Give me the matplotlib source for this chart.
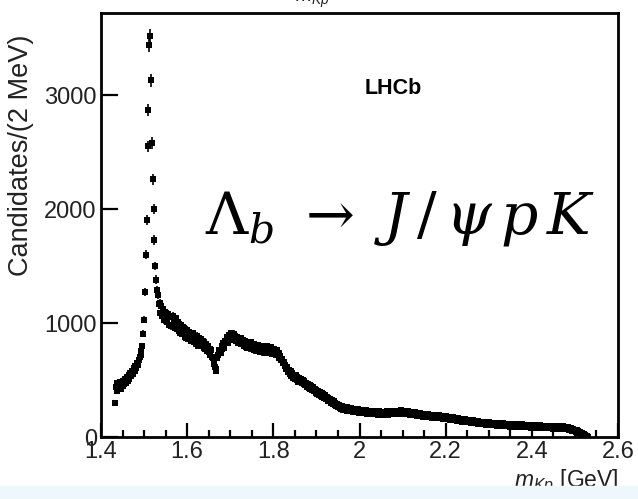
import matplotlib
matplotlib.use('Agg')
import matplotlib.pyplot as plt
import numpy as np

# m(Kp) spectrum, 2 MeV bins starting at threshold
bin_start = 1.432
bin_width = 0.002
counts = [
    300, 440, 470, 405, 462, 428, 485, 420, 466, 450,        # 1.432
    488, 465, 512, 478, 530, 495, 548, 512, 560, 535,        # 1.452
    578, 552, 602, 580, 625, 605, 650, 630, 680, 700,        # 1.472
    722, 752, 795, 905, 1030, 1270, 1600, 1900, 2550, 2870,  # 1.492
    3440, 3520, 3130, 2580, 2260, 2000, 1730, 1500, 1380, 1290,  # 1.512
    1250, 1165, 1180, 1085, 1150, 1060, 1120, 1025, 1098, 1035,  # 1.532
    1090, 1010, 1075, 985, 1060, 970, 1050, 1065, 985, 1030,     # 1.552
    960, 1040, 945, 1010, 930, 995, 915, 985, 905, 965,      # 1.572
    960, 880, 945, 870, 935, 860, 925, 905, 845, 900,        # 1.592
    860, 910, 835, 885, 815, 890, 830, 800, 870, 820,        # 1.612
    860, 800, 845, 780, 830, 770, 815, 755, 800, 745,        # 1.632
    775, 720, 760, 700, 690, 640, 612, 580, 600, 690,        # 1.652
    720, 760, 765, 740, 800, 770, 825, 785, 840, 830,        # 1.672
    875, 825, 885, 895, 855, 910, 875, 860, 905, 850,        # 1.692
    890, 840, 875, 825, 870, 835, 815, 865, 820, 850,        # 1.712
    800, 845, 790, 835, 785, 825, 778, 815, 835, 785,        # 1.732
    770, 815, 760, 810, 770, 755, 805, 758, 800, 750,        # 1.752
    790, 742, 798, 755, 740, 790, 748, 795, 735, 782,        # 1.772
    740, 790, 732, 775, 725, 772, 735, 718, 765, 722,        # 1.792
    735, 695, 710, 675, 682, 650, 660, 622, 635, 598,        # 1.812
    615, 568, 592, 550, 575, 535, 562, 522, 548, 512,        # 1.832
    540, 500, 528, 485, 518, 480, 510, 470, 498, 462,        # 1.852
    490, 452, 478, 440, 468, 430, 458, 422, 450, 412,        # 1.872
    438, 400, 425, 388, 414, 378, 405, 370, 395, 362,        # 1.892
    388, 350, 375, 340, 365, 330, 354, 320, 345, 312,        # 1.912
    335, 300, 322, 288, 312, 280, 302, 270, 294, 262,        # 1.932
    284, 252, 276, 246, 270, 240, 266, 236, 260, 232,        # 1.952
    260, 230, 255, 226, 252, 224, 250, 222, 248, 220,        # 1.972
    246, 218, 242, 214, 240, 215, 238, 210, 236, 212,        # 1.992
    237, 208, 233, 205, 231, 203, 229, 204, 227, 200,        # 2.012
    228, 200, 225, 198, 224, 201, 194, 226, 199, 222,        # 2.032
    197, 223, 200, 194, 222, 199, 225, 196, 220, 201,        # 2.052
    227, 200, 224, 202, 230, 204, 226, 201, 231, 206,        # 2.072
    229, 204, 233, 207, 228, 203, 232, 206, 228, 202,        # 2.092
    226, 200, 222, 196, 220, 194, 218, 192, 216, 190,        # 2.112
    214, 188, 210, 184, 208, 182, 206, 185, 180, 204,        # 2.132
    199, 178, 202, 174, 198, 172, 196, 175, 170, 194,        # 2.152
    190, 168, 193, 165, 189, 167, 191, 163, 187, 166,        # 2.172
    186, 162, 183, 158, 181, 157, 179, 155, 177, 153,        # 2.192
    176, 151, 173, 148, 170, 145, 167, 142, 164, 140,        # 2.212
    162, 139, 160, 135, 158, 133, 155, 131, 153, 129,        # 2.232
    151, 128, 149, 125, 147, 123, 145, 121, 143, 120,        # 2.252
    140, 118, 138, 114, 136, 113, 134, 111, 132, 110,        # 2.272
    130, 108, 129, 106, 128, 105, 126, 104, 125, 102,        # 2.292
    124, 102, 123, 100, 122, 99, 121, 98, 120, 97,           # 2.312
    119, 96, 118, 95, 117, 94, 116, 93, 115, 92,             # 2.332
    115, 92, 114, 91, 113, 90, 112, 89, 111, 88,             # 2.352
    111, 88, 110, 87, 109, 86, 108, 85, 107, 84,             # 2.372
    107, 85, 106, 83, 105, 82, 104, 81, 103, 80,             # 2.392
    104, 82, 103, 80, 102, 79, 101, 78, 100, 77,             # 2.412
    101, 79, 100, 77, 99, 76, 98, 75, 97, 74,                # 2.432
    98, 76, 97, 74, 96, 73, 94, 72, 93, 70,                  # 2.452
    94, 72, 92, 70, 90, 68, 87, 65, 83, 61,                  # 2.472
    78, 56, 72, 51, 65, 45, 58, 38, 50, 31,                  # 2.492
    42, 24, 35, 18, 27, 13, 18, 8, 10, 4,                    # 2.512
]
y_ticks = [0, 1000, 2000, 3000]
x_ticks = [1.4, 1.6, 1.8, 2.0, 2.2, 2.4, 2.6]
x_tick_labels = ['1.4', '1.6', '1.8', '2', '2.2', '2.4', '2.6']

counts = np.array(counts, dtype=float)
mass = bin_start + bin_width * np.arange(len(counts))
errors = np.sqrt(counts)

plt.rcParams['font.family'] = ['Liberation Sans', 'DejaVu Sans']
plt.rcParams['mathtext.fontset'] = 'custom'
plt.rcParams['mathtext.rm'] = 'Liberation Sans'
plt.rcParams['mathtext.it'] = 'Liberation Sans:italic'

fig = plt.figure(figsize=(6.38, 4.99), dpi=100)
# light strip along the bottom edge of the slide
fig.patches.append(plt.Rectangle((0, 0), 1, 0.026, transform=fig.transFigure,
                                 color='#eef7fb', zorder=0))
ax = fig.add_axes([0.1583, 0.1242, 0.9687 - 0.1583, 0.974 - 0.1242])

ax.errorbar(mass, counts, yerr=errors, fmt='s', color='black', ms=3.8,
            elinewidth=1.2, capsize=0, mew=0)

ax.set_xlim(1.4, 2.6)
ax.set_ylim(0, 3720)
ax.set_xticks(x_ticks)
ax.set_xticklabels(x_tick_labels)
ax.set_xticks(np.arange(1.4, 2.6, 0.05), minor=True)
ax.set_yticks(y_ticks)

for side in ['top', 'right', 'bottom', 'left']:
    ax.spines[side].set_linewidth(2)
ax.tick_params(which='both', direction='in', top=False, right=False,
               labelsize=17, labelcolor='#222222', width=1.6)
ax.tick_params(axis='y', which='major', length=12, pad=3)
ax.tick_params(axis='x', which='major', length=10, pad=3)
ax.tick_params(axis='x', which='minor', length=5)

ax.set_ylabel('Candidates/(2 MeV)', fontsize=19.5, color='#222222')
ax.yaxis.set_label_coords(-0.13, 0.665)
ax.set_xlabel(r'$m_{Kp}$ [GeV]', fontsize=16.5, color='#222222', labelpad=0)
ax.xaxis.set_label_coords(1.0, -0.072)
ax.xaxis.label.set_horizontalalignment('right')

ax.text(0.565, 0.823, 'LHCb', transform=ax.transAxes, fontsize=15.5,
        fontweight='bold', ha='center', va='center')
ax.text(0.201, 0.481, r'$\Lambda_b\ \rightarrow\ J\,/\,\psi\,p\,K$',
        transform=ax.transAxes, fontsize=42, ha='left', va='baseline',
        math_fontfamily='dejavuserif')

# title of the slide above, cut off by the crop
fig.text(0.49, 1.0, r'$m_{Kp}$', fontsize=14, color='#222222', ha='center',
         va='center')

fig.savefig('out.png', dpi=100)
